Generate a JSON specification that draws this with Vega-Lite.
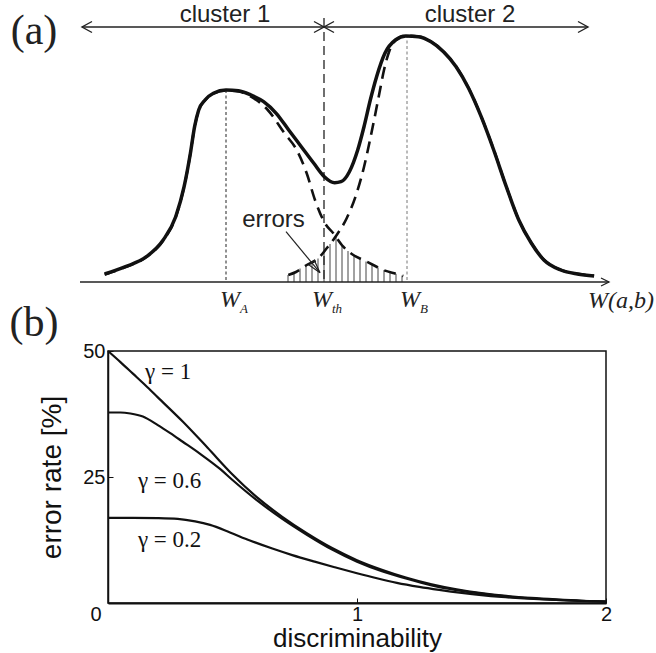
{
  "$schema": "https://vega.github.io/schema/vega-lite/v6.json",
  "width": 498,
  "height": 252,
  "autosize": {"type": "none"},
  "padding": {"left": 108, "top": 351, "right": 50, "bottom": 50},
  "background": "white",
  "config": {"view": {"stroke": "#111", "strokeWidth": 1.5}},
  "datasets": {
    "solid": [
      {"x": 2.46, "y": 0.8}, {"x": 4.55, "y": 1.53}, {"x": 6.64, "y": 2.53}, {"x": 8.32, "y": 4.2},
      {"x": 9.57, "y": 6.53}, {"x": 10.41, "y": 9.53}, {"x": 11.04, "y": 12.87}, {"x": 11.46, "y": 15.53},
      {"x": 11.87, "y": 17.2}, {"x": 12.5, "y": 18.2}, {"x": 13.34, "y": 18.87}, {"x": 14.6, "y": 19.2},
      {"x": 15.85, "y": 19.13}, {"x": 17.1, "y": 18.7}, {"x": 18.36, "y": 18.03}, {"x": 19.62, "y": 16.87},
      {"x": 20.87, "y": 15.2}, {"x": 22.13, "y": 13.53}, {"x": 23.38, "y": 11.87}, {"x": 24.43, "y": 10.53},
      {"x": 25.47, "y": 9.93}, {"x": 26.1, "y": 10.03}, {"x": 26.94, "y": 11.03}, {"x": 27.77, "y": 13.2},
      {"x": 28.4, "y": 15.53}, {"x": 29.03, "y": 18.2}, {"x": 29.66, "y": 20.53}, {"x": 30.49, "y": 22.87},
      {"x": 31.54, "y": 24.2}, {"x": 32.59, "y": 24.6}, {"x": 33.84, "y": 24.53}, {"x": 35.1, "y": 24.03},
      {"x": 36.35, "y": 23.03}, {"x": 37.61, "y": 21.53}, {"x": 38.86, "y": 19.37}, {"x": 40.12, "y": 16.53},
      {"x": 41.37, "y": 13.2}, {"x": 42.63, "y": 9.53}, {"x": 43.88, "y": 6.2}, {"x": 45.14, "y": 3.87},
      {"x": 46.39, "y": 2.2}, {"x": 48.07, "y": 1.2}, {"x": 49.74, "y": 0.8}, {"x": 51.41, "y": 0.6}
    ],
    "dashL": [
      {"x": 2.46, "y": 0.75}, {"x": 4.55, "y": 1.5}, {"x": 6.64, "y": 2.5}, {"x": 8.32, "y": 4.15},
      {"x": 9.57, "y": 6.5}, {"x": 10.41, "y": 9.5}, {"x": 11.04, "y": 12.85}, {"x": 11.46, "y": 15.5},
      {"x": 11.87, "y": 17.15}, {"x": 12.5, "y": 18.15}, {"x": 13.34, "y": 18.85}, {"x": 14.6, "y": 19.15},
      {"x": 15.85, "y": 19.05}, {"x": 17.1, "y": 18.53}, {"x": 18.78, "y": 17.2}, {"x": 20.45, "y": 14.87},
      {"x": 21.67, "y": 13.2}, {"x": 22.67, "y": 10.87}, {"x": 23.5, "y": 8.2}, {"x": 24.5, "y": 5.87},
      {"x": 25.33, "y": 4.87}, {"x": 26.33, "y": 3.53}, {"x": 27.33, "y": 2.7}, {"x": 28.33, "y": 2.2},
      {"x": 29.33, "y": 1.7}, {"x": 30.33, "y": 1.2}, {"x": 31.67, "y": 0.8}, {"x": 32.33, "y": 0.6}
    ],
    "dashR": [
      {"x": 20.83, "y": 0.7}, {"x": 21.6, "y": 1.0}, {"x": 22.67, "y": 1.7}, {"x": 23.83, "y": 2.37},
      {"x": 24.67, "y": 3.37}, {"x": 25.67, "y": 4.7}, {"x": 26.67, "y": 6.37}, {"x": 27.67, "y": 8.9},
      {"x": 28.4, "y": 11.5}, {"x": 29.0, "y": 14.2}, {"x": 29.55, "y": 16.9}, {"x": 30.0, "y": 19.2},
      {"x": 30.4, "y": 21.2}, {"x": 30.9, "y": 23.0}, {"x": 31.6, "y": 24.2}, {"x": 32.59, "y": 24.62},
      {"x": 33.84, "y": 24.55}, {"x": 35.1, "y": 24.05}, {"x": 36.35, "y": 23.05}, {"x": 37.61, "y": 21.55},
      {"x": 38.86, "y": 19.4}, {"x": 40.12, "y": 16.55}, {"x": 41.37, "y": 13.25}, {"x": 42.63, "y": 9.55},
      {"x": 43.88, "y": 6.22}, {"x": 45.14, "y": 3.9}, {"x": 46.39, "y": 2.23}, {"x": 48.07, "y": 1.22},
      {"x": 49.74, "y": 0.82}, {"x": 51.41, "y": 0.62}
    ],
    "hatch": [
      {"x": 20.8, "y": 0.7}, {"x": 21.4, "y": 1.0}, {"x": 22.0, "y": 1.35}, {"x": 22.6, "y": 1.65},
      {"x": 23.2, "y": 2.0}, {"x": 23.8, "y": 2.35}, {"x": 24.4, "y": 3.1}, {"x": 25.0, "y": 3.8},
      {"x": 25.6, "y": 4.65}, {"x": 26.2, "y": 3.7}, {"x": 26.8, "y": 3.1}, {"x": 27.4, "y": 2.65},
      {"x": 28.0, "y": 2.3}, {"x": 28.6, "y": 2.05}, {"x": 29.2, "y": 1.75}, {"x": 29.8, "y": 1.45},
      {"x": 30.4, "y": 1.2}, {"x": 31.0, "y": 1.0}, {"x": 31.6, "y": 0.82}, {"x": 32.2, "y": 0.64}
    ],
    "hlines": [
      {"x": 0, "x2": 52.9, "y": 0},
      {"x": 0.2, "x2": 50.8, "y": 25.5}
    ],
    "headsL": [{"x": 0.2, "y": 25.5}, {"x": 24.4, "y": 25.5}],
    "headsR": [{"x": 24.4, "y": 25.5}, {"x": 50.8, "y": 25.5}],
    "headAxis": [{"x": 52.9, "y": 0}],
    "vth": [{"x": 24.4, "y": 26.4}],
    "vA": [{"x": 14.6, "y": 19.2}],
    "vB": [{"x": 32.7, "y": 24.7}],
    "errArrow": [{"x": 20.6, "y": 5.03, "o": 0}, {"x": 24.0, "y": 0.93, "o": 1}],
    "errHead": [
      {"x": 24.0, "y": 0.93, "o": 0}, {"x": 23.44, "y": 2.15, "o": 1},
      {"x": 22.9, "y": 1.71, "o": 2}, {"x": 24.0, "y": 0.93, "o": 3}
    ],
    "sans": [
      {"x": 14.5, "y": 26.0, "t": "cluster 1"},
      {"x": 39.0, "y": 26.0, "t": "cluster 2"},
      {"x": 19.35, "y": 5.5, "t": "errors"}
    ],
    "panelTags": [
      {"x": -4.6, "y": 25.1, "t": "(a)"},
      {"x": -4.6, "y": -4.1, "t": "(b)"}
    ],
    "wMain": [
      {"x": 15.0, "y": -2.5, "t": "W"},
      {"x": 24.2, "y": -2.5, "t": "W"},
      {"x": 33.0, "y": -2.5, "t": "W"}
    ],
    "wSub": [
      {"x": 16.0, "y": -3.1, "t": "A"},
      {"x": 25.2, "y": -3.1, "t": "th"},
      {"x": 34.0, "y": -3.1, "t": "B"}
    ],
    "wAxis": [{"x": 50.8, "y": -2.6, "t": "W(a,b)"}],
    "curves": [
      {"d": 0, "e": 50, "g": "1"}, {"d": 0.05, "e": 47.8, "g": "1"}, {"d": 0.1, "e": 45.5, "g": "1"},
      {"d": 0.15, "e": 43.2, "g": "1"}, {"d": 0.2, "e": 40.8, "g": "1"}, {"d": 0.3, "e": 36.0, "g": "1"},
      {"d": 0.4, "e": 30.8, "g": "1"}, {"d": 0.5, "e": 25.5, "g": "1"}, {"d": 0.6, "e": 20.9, "g": "1"},
      {"d": 0.7, "e": 17.1, "g": "1"}, {"d": 0.8, "e": 13.8, "g": "1"}, {"d": 0.9, "e": 10.9, "g": "1"},
      {"d": 1.0, "e": 8.5, "g": "1"}, {"d": 1.1, "e": 6.6, "g": "1"}, {"d": 1.2, "e": 5.0, "g": "1"},
      {"d": 1.3, "e": 3.7, "g": "1"}, {"d": 1.4, "e": 2.7, "g": "1"}, {"d": 1.5, "e": 1.95, "g": "1"},
      {"d": 1.6, "e": 1.4, "g": "1"}, {"d": 1.7, "e": 1.0, "g": "1"}, {"d": 1.8, "e": 0.7, "g": "1"},
      {"d": 1.9, "e": 0.45, "g": "1"}, {"d": 2.0, "e": 0.3, "g": "1"},
      {"d": 0, "e": 37.8, "g": "0.6"}, {"d": 0.05, "e": 37.8, "g": "0.6"}, {"d": 0.09, "e": 37.6, "g": "0.6"},
      {"d": 0.14, "e": 37.0, "g": "0.6"}, {"d": 0.2, "e": 35.3, "g": "0.6"}, {"d": 0.25, "e": 33.7, "g": "0.6"},
      {"d": 0.3, "e": 32.0, "g": "0.6"}, {"d": 0.37, "e": 29.6, "g": "0.6"}, {"d": 0.45, "e": 26.6, "g": "0.6"},
      {"d": 0.5, "e": 24.4, "g": "0.6"}, {"d": 0.6, "e": 20.3, "g": "0.6"}, {"d": 0.7, "e": 16.7, "g": "0.6"},
      {"d": 0.8, "e": 13.5, "g": "0.6"}, {"d": 0.9, "e": 10.6, "g": "0.6"}, {"d": 1.0, "e": 8.2, "g": "0.6"},
      {"d": 1.1, "e": 6.3, "g": "0.6"}, {"d": 1.2, "e": 4.8, "g": "0.6"}, {"d": 1.3, "e": 3.5, "g": "0.6"},
      {"d": 1.4, "e": 2.55, "g": "0.6"}, {"d": 1.5, "e": 1.85, "g": "0.6"}, {"d": 1.6, "e": 1.3, "g": "0.6"},
      {"d": 1.7, "e": 0.92, "g": "0.6"}, {"d": 1.8, "e": 0.63, "g": "0.6"}, {"d": 1.9, "e": 0.43, "g": "0.6"},
      {"d": 2.0, "e": 0.3, "g": "0.6"},
      {"d": 0, "e": 16.9, "g": "0.2"}, {"d": 0.1, "e": 16.9, "g": "0.2"}, {"d": 0.2, "e": 16.85, "g": "0.2"},
      {"d": 0.28, "e": 16.7, "g": "0.2"}, {"d": 0.35, "e": 16.2, "g": "0.2"}, {"d": 0.41, "e": 15.5, "g": "0.2"},
      {"d": 0.49, "e": 14.0, "g": "0.2"}, {"d": 0.57, "e": 12.4, "g": "0.2"}, {"d": 0.66, "e": 10.8, "g": "0.2"},
      {"d": 0.74, "e": 9.5, "g": "0.2"}, {"d": 0.83, "e": 8.2, "g": "0.2"}, {"d": 0.91, "e": 7.1, "g": "0.2"},
      {"d": 1.0, "e": 5.9, "g": "0.2"}, {"d": 1.08, "e": 4.9, "g": "0.2"}, {"d": 1.16, "e": 4.0, "g": "0.2"},
      {"d": 1.25, "e": 3.2, "g": "0.2"}, {"d": 1.33, "e": 2.6, "g": "0.2"}, {"d": 1.42, "e": 2.0, "g": "0.2"},
      {"d": 1.5, "e": 1.55, "g": "0.2"}, {"d": 1.58, "e": 1.2, "g": "0.2"}, {"d": 1.67, "e": 0.9, "g": "0.2"},
      {"d": 1.75, "e": 0.7, "g": "0.2"}, {"d": 1.85, "e": 0.5, "g": "0.2"}, {"d": 2.0, "e": 0.3, "g": "0.2"}
    ],
    "gLabels": [
      {"d": 0.149, "e": 45.8, "t": "γ = 1"},
      {"d": 0.12, "e": 24.2, "t": "γ = 0.6"},
      {"d": 0.12, "e": 12.5, "t": "γ = 0.2"}
    ]
  },
  "layer": [
    {
      "encoding": {
        "x": {"field": "x", "type": "quantitative", "scale": {"domain": [2.8, 52.6], "nice": false, "zero": false}, "axis": null},
        "y": {"field": "y", "type": "quantitative", "scale": {"domain": [-32.1, -6.9], "nice": false, "zero": false}, "axis": null}
      },
      "layer": [
        {"data": {"name": "hatch"}, "mark": {"type": "rule", "color": "#444", "strokeWidth": 1, "clip": false}, "encoding": {"y2": {"datum": 0}}},
        {"data": {"name": "hlines"}, "mark": {"type": "rule", "color": "#222", "strokeWidth": 1.4, "clip": false}, "encoding": {"x2": {"field": "x2"}}},
        {"data": {"name": "headsL"}, "mark": {"type": "point", "shape": "M2,-1.1L0,0L2,1.1", "size": 100, "filled": false, "color": "#222", "strokeWidth": 1.4, "opacity": 1, "clip": false}, "encoding": {}},
        {"data": {"name": "headsR"}, "mark": {"type": "point", "shape": "M-2,-1.1L0,0L-2,1.1", "size": 100, "filled": false, "color": "#222", "strokeWidth": 1.4, "opacity": 1, "clip": false}, "encoding": {}},
        {"data": {"name": "headAxis"}, "mark": {"type": "point", "shape": "M-2,-1L0,0L-2,1", "size": 64, "filled": false, "color": "#222", "strokeWidth": 1.3, "opacity": 1, "clip": false}, "encoding": {}},
        {"data": {"name": "vth"}, "mark": {"type": "rule", "color": "#222", "strokeWidth": 1.3, "strokeDash": [9, 5], "clip": false}, "encoding": {"y2": {"datum": 0}}},
        {"data": {"name": "vA"}, "mark": {"type": "rule", "color": "#222", "strokeWidth": 1, "strokeDash": [3, 2.5], "clip": false}, "encoding": {"y2": {"datum": 0}}},
        {"data": {"name": "vB"}, "mark": {"type": "rule", "color": "#777", "strokeWidth": 1, "strokeDash": [3, 2.5], "clip": false}, "encoding": {"y2": {"datum": 0}}},
        {"data": {"name": "dashL"}, "mark": {"type": "line", "interpolate": "monotone", "color": "#111", "strokeWidth": 2.6, "strokeDash": [12, 7], "clip": false}, "encoding": {}},
        {"data": {"name": "dashR"}, "mark": {"type": "line", "interpolate": "monotone", "color": "#111", "strokeWidth": 2.6, "strokeDash": [12, 7], "clip": false}, "encoding": {}},
        {"data": {"name": "solid"}, "mark": {"type": "line", "interpolate": "monotone", "color": "#111", "strokeWidth": 3.5, "clip": false}, "encoding": {}},
        {"data": {"name": "errArrow"}, "mark": {"type": "line", "color": "#222", "strokeWidth": 1.2, "clip": false}, "encoding": {"order": {"field": "o"}}},
        {"data": {"name": "errHead"}, "mark": {"type": "line", "color": "#222", "strokeWidth": 1.2, "clip": false}, "encoding": {"order": {"field": "o"}}},
        {"data": {"name": "sans"}, "mark": {"type": "text", "font": "Liberation Sans", "fontSize": 24, "color": "#222", "align": "center", "baseline": "alphabetic", "clip": false}, "encoding": {"text": {"field": "t"}}},
        {"data": {"name": "panelTags"}, "mark": {"type": "text", "font": "Liberation Serif", "fontSize": 42, "color": "#222", "align": "center", "baseline": "middle", "clip": false}, "encoding": {"text": {"field": "t"}}},
        {"data": {"name": "wMain"}, "mark": {"type": "text", "font": "Liberation Serif", "fontStyle": "italic", "fontSize": 24, "color": "#222", "align": "center", "baseline": "alphabetic", "clip": false}, "encoding": {"text": {"field": "t"}}},
        {"data": {"name": "wSub"}, "mark": {"type": "text", "font": "Liberation Serif", "fontStyle": "italic", "fontSize": 13, "color": "#222", "align": "left", "baseline": "alphabetic", "clip": false}, "encoding": {"text": {"field": "t"}}},
        {"data": {"name": "wAxis"}, "mark": {"type": "text", "font": "Liberation Serif", "fontStyle": "italic", "fontSize": 24, "color": "#222", "align": "left", "baseline": "alphabetic", "clip": false}, "encoding": {"text": {"field": "t"}}}
      ]
    },
    {
      "encoding": {
        "x": {
          "field": "d", "type": "quantitative",
          "scale": {"domain": [0, 2], "nice": false},
          "axis": {
            "values": [0, 1, 2], "labelExpr": "datum.value === 0 ? '0' : datum.value === 1 ? '1' : '2'",
            "title": "discriminability", "grid": false, "labelFlush": false, "labelOverlap": false,
            "titleFont": "Liberation Sans", "titleFontSize": 26, "titleFontWeight": "normal", "titleColor": "#111",
            "labelFont": "Liberation Sans", "labelFontSize": 20, "labelColor": "#111",
            "labelAlign": {"expr": "datum.value === 0 ? 'right' : 'center'"},
            "labelOffset": {"expr": "datum.value === 0 ? -7 : 0"},
            "tickSize": -5, "tickColor": "#111", "domainColor": "#111", "domainWidth": 2,
            "labelPadding": 6, "titlePadding": 1
          }
        },
        "y": {
          "field": "e", "type": "quantitative",
          "scale": {"domain": [0, 50], "nice": false},
          "axis": {
            "values": [25, 50], "format": "d", "title": "error rate [%]", "grid": false, "labelOverlap": false,
            "titleFont": "Liberation Sans", "titleFontSize": 28, "titleFontWeight": "normal", "titleColor": "#111",
            "labelFont": "Liberation Sans", "labelFontSize": 20, "labelColor": "#111",
            "tickSize": -5, "tickColor": "#111", "domainColor": "#111", "domainWidth": 1.5,
            "labelPadding": 8, "titlePadding": 16
          }
        }
      },
      "layer": [
        {"data": {"name": "curves"}, "mark": {"type": "line", "interpolate": "monotone", "color": "#111", "strokeWidth": 2.2}, "encoding": {"detail": {"field": "g"}}},
        {"data": {"name": "gLabels"}, "mark": {"type": "text", "font": "Liberation Serif", "fontSize": 23, "color": "#111", "align": "left", "baseline": "middle"}, "encoding": {"text": {"field": "t"}}}
      ]
    }
  ],
  "resolve": {"scale": {"x": "independent", "y": "independent"}}
}
